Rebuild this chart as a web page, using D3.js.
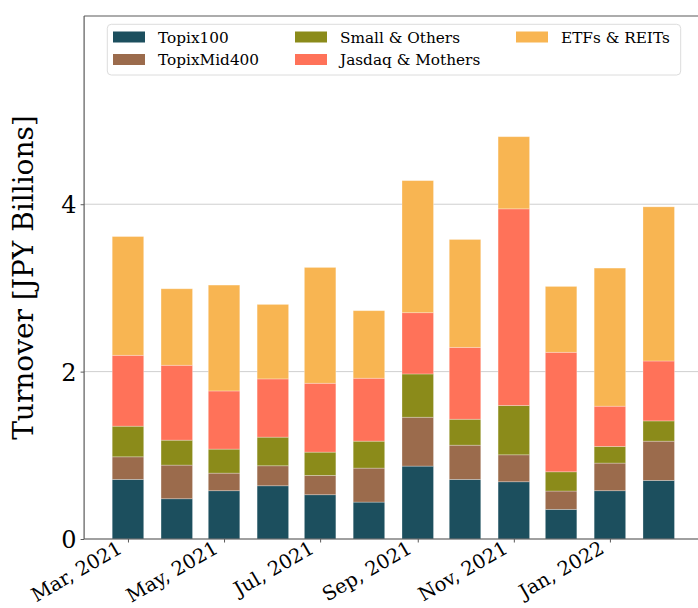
<!DOCTYPE html>
<html>
<head>
<meta charset="utf-8">
<script src="https://cdn.jsdelivr.net/npm/d3@7"></script>
<style>
  html, body { margin: 0; padding: 0; background: #fff; }
  svg { display: block; }
  svg text { font-family: "DejaVu Serif", serif !important; }
</style>
</head>
<body>
<svg id="chart" width="698" height="608"></svg>
<script>
// ---- Data ----
const months = ["2021-03","2021-04","2021-05","2021-06","2021-07","2021-08","2021-09","2021-10","2021-11","2021-12","2022-01","2022-02"];
const seriesNames = ["Topix100","TopixMid400","Small & Others","Jasdaq & Mothers","ETFs & REITs"];
const topix100   = [0.712,0.481,0.577,0.636,0.529,0.441,0.871,0.712,0.684,0.354,0.577,0.700];
const topixMid400= [0.270,0.402,0.210,0.239,0.231,0.406,0.584,0.409,0.322,0.219,0.330,0.469];
const smallOthers= [0.366,0.298,0.287,0.342,0.278,0.322,0.517,0.310,0.589,0.230,0.199,0.242];
const jasdaq     = [0.847,0.895,0.695,0.696,0.823,0.752,0.732,0.859,2.350,1.428,0.481,0.716];
const etfs       = [1.419,0.914,1.265,0.890,1.384,0.807,1.578,1.289,0.862,0.787,1.650,1.842];
const yTicks = [0, 2, 4];
const xTickMonths = ["2021-03","2021-05","2021-07","2021-09","2021-11","2022-01"];
const colors = ["#1c4f5e","#9b6b4c","#8b8b1a","#ff7259","#f8b552"];

(function () {
// ---- Build table ----
const parse = d3.utcParse("%Y-%m");
const seriesValues = [topix100, topixMid400, smallOthers, jasdaq, etfs];
const rows = months.map((m, i) => {
  const r = { date: parse(m) };
  seriesNames.forEach((s, k) => r[s] = seriesValues[k][i]);
  return r;
});
const stack = d3.stack().keys(seriesNames)(rows);

// ---- Layout ----
const svg = d3.select("#chart");
const pL = 84.1, pR = 702.6, pT = 16, pB = 539;
const DAY = 86400000;
const barDays = 20;
const first = rows[0].date, last = rows[rows.length - 1].date;
const spanDays = (last - first) / DAY + barDays;
const padDays = barDays / 2 + 0.05 * spanDays;

const x = d3.scaleUtc()
  .domain([new Date(+first - padDays * DAY), new Date(+last + padDays * DAY)])
  .range([pL, pR]);
const maxTotal = d3.max(rows, r => d3.sum(seriesNames, s => r[s]));
const y = d3.scaleLinear().domain([0, maxTotal * 1.3]).range([pB, pT]);

// gridlines
svg.append("g").selectAll("line").data(yTicks).join("line")
  .attr("x1", pL).attr("x2", pR)
  .attr("y1", d => y(d)).attr("y2", d => y(d))
  .attr("stroke", "#cfcfcf").attr("stroke-width", 1);

// bars
const bw = x(new Date(+first + barDays * DAY)) - x(first);
svg.append("g").selectAll("g").data(stack).join("g")
  .attr("fill", (d, i) => colors[i])
  .selectAll("rect").data(d => d).join("rect")
  .attr("x", d => x(d.data.date) - bw / 2)
  .attr("width", bw)
  .attr("y", d => y(d[1]))
  .attr("height", d => y(d[0]) - y(d[1]))
  .attr("stroke", "rgba(255,255,255,0.35)")
  .attr("stroke-width", 0.8);

// spines
const spine = (x1, y1, x2, y2) => svg.append("line")
  .attr("x1", x1).attr("y1", y1).attr("x2", x2).attr("y2", y2)
  .attr("stroke", "#5a5a5a").attr("stroke-width", 1.2);
spine(pL, pT, pL, pB);
spine(pL, pB, pR, pB);
spine(pL, pT, pR, pT);

// y axis
const yAxis = d3.axisLeft(y).tickValues(yTicks).tickSize(3.5).tickPadding(4).tickFormat(d3.format("d"));
const gy = svg.append("g").attr("transform", `translate(${pL},0)`).call(yAxis);
gy.select(".domain").remove();
gy.selectAll(".tick line").attr("stroke", "#5a5a5a");
gy.selectAll(".tick text").attr("font-size", 24).attr("fill", "#000").attr("dy", "0.36em");

// x axis
const xTicks = xTickMonths.map(parse);
const xAxis = d3.axisBottom(x).tickValues(xTicks).tickSize(3.5).tickPadding(0).tickFormat(d3.utcFormat("%b, %Y"));
const gx = svg.append("g").attr("transform", `translate(0,${pB})`).call(xAxis);
gx.select(".domain").remove();
gx.selectAll(".tick line").attr("stroke", "#5a5a5a");
gx.selectAll(".tick text")
  .attr("font-size", 19.5).attr("fill", "#000")
  .attr("text-anchor", "end")
  .attr("dy", null)
  .attr("x", -5).attr("y", 13)
  .attr("transform", "rotate(-30, -5, 13)");

// y label
svg.append("text")
  .attr("transform", `translate(33,${(pT + pB) / 2}) rotate(-90)`)
  .attr("text-anchor", "middle")
  .attr("font-size", 28)
  .attr("fill", "#000")
  .text("Turnover [JPY Billions]");

// legend
const lg = svg.append("g");
lg.append("rect").attr("x", 107.3).attr("y", 24.3).attr("width", 573.4).attr("height", 50.7)
  .attr("rx", 4).attr("fill", "rgba(255,255,255,0.8)").attr("stroke", "#dcdcdc").attr("stroke-width", 1);
const colX = [113, 295, 516];
const rowY = [37, 59.5];
const order = [[0,0],[0,1],[1,0],[1,1],[2,0]];
seriesNames.forEach((s, i) => {
  const [c, r] = order[i];
  const g = lg.append("g").attr("transform", `translate(${colX[c]},${rowY[r]})`);
  g.append("rect").attr("x", 0).attr("y", -5.5).attr("width", 32).attr("height", 11).attr("fill", colors[i]);
  g.append("text").attr("x", 45).attr("y", 5.5).attr("font-size", 15.3).attr("fill", "#000").text(s);
});
})();
</script>
</body>
</html>
